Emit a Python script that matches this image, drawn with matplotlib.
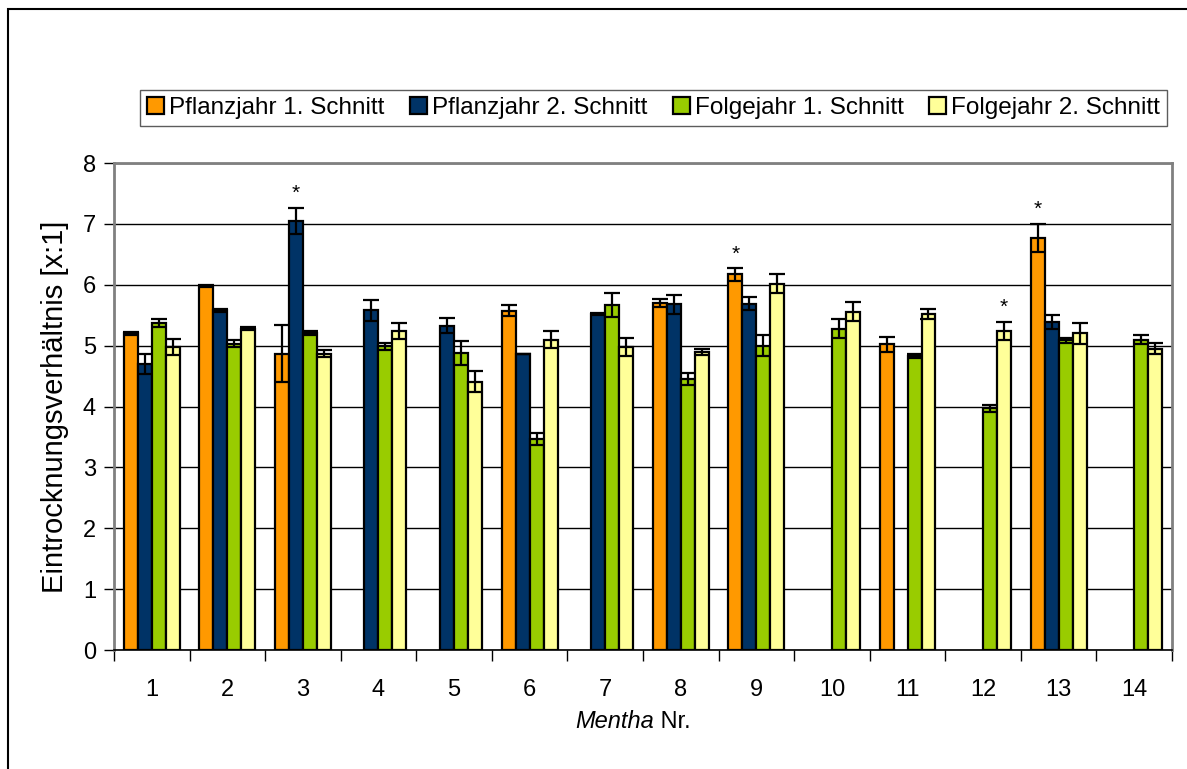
import numpy as np
import matplotlib
matplotlib.use("Agg")
import matplotlib.pyplot as plt
from matplotlib.patches import Rectangle

plt.rcParams["font.family"] = ["Liberation Sans", "DejaVu Sans"]

nr = [str(i) for i in range(1, 15)]
serien = ["Pflanzjahr 1. Schnitt", "Pflanzjahr 2. Schnitt",
          "Folgejahr 1. Schnitt", "Folgejahr 2. Schnitt"]
farben = ["#FF9900", "#003366", "#99CC00", "#FFFF99"]

nan = np.nan
pj1 = [5.20, 5.98, 4.87, nan, nan, 5.57, nan, 5.70, 6.17, nan, 5.02, nan, 6.77, nan]
pj1_err = [0.02, 0.02, 0.47, nan, nan, 0.09, nan, 0.06, 0.10, nan, 0.13, nan, 0.23, nan]
pj2 = [4.70, 5.58, 7.05, 5.58, 5.33, 4.87, 5.52, 5.68, 5.69, nan, nan, nan, 5.39, nan]
pj2_err = [0.16, 0.02, 0.21, 0.17, 0.12, 0.0, 0.02, 0.16, 0.11, nan, nan, nan, 0.12, nan]
fj1 = [5.37, 5.03, 5.21, 4.99, 4.88, 3.47, 5.67, 4.45, 5.00, 5.28, 4.83, 3.97, 5.09, 5.10]
fj1_err = [0.06, 0.06, 0.03, 0.06, 0.20, 0.10, 0.20, 0.10, 0.17, 0.16, 0.04, 0.06, 0.04, 0.08]
fj2 = [4.98, 5.28, 4.87, 5.24, 4.41, 5.10, 4.98, 4.90, 6.02, 5.56, 5.52, 5.24, 5.20, 4.95]
fj2_err = [0.13, 0.03, 0.06, 0.13, 0.17, 0.14, 0.15, 0.05, 0.16, 0.15, 0.08, 0.15, 0.17, 0.09]

werte = [pj1, pj2, fj1, fj2]
fehler = [pj1_err, pj2_err, fj1_err, fj2_err]

# signifikante Unterschiede: (Mentha Nr. Index, Serie)
sterne = [(2, 1), (8, 0), (11, 3), (12, 0)]

fig = plt.figure(figsize=(11.87, 7.69), dpi=100)
ax = fig.add_axes([0.096, 0.1547, 0.8914, 0.6333])

x = np.arange(len(nr))
breite = 0.185
for i, (w, e, f, name) in enumerate(zip(werte, fehler, farben, serien)):
    pos = x + (i - 1.5) * breite
    ax.bar(pos, w, breite, color=f, edgecolor="black", linewidth=1.6,
           label=name, zorder=3)
    ax.errorbar(pos, w, yerr=e, fmt="none", ecolor="black", elinewidth=1.6,
                capsize=5.5, capthick=1.6, zorder=4)

for g, s in sterne:
    xs = x[g] + (s - 1.5) * breite
    ys = werte[s][g] + fehler[s][g] + 0.08
    ax.text(xs, ys, "*", ha="center", va="bottom", fontsize=15, zorder=5)

ax.set_xlim(-0.5, len(nr) - 0.5)
ax.set_ylim(0, 8)
ax.set_yticks(range(0, 9))
ax.yaxis.grid(True, color="black", linewidth=1.0, zorder=0)
ax.set_axisbelow(True)

ax.set_xticks(x)
ax.set_xticklabels(nr)
ax.set_xticks(np.arange(-0.5, len(nr), 1.0), minor=True)
ax.tick_params(axis="x", which="major", length=0, pad=21, labelsize=17)
ax.tick_params(axis="x", which="minor", length=8, width=1.0, color="black")
ax.tick_params(axis="y", length=7, width=1.0, labelsize=17, pad=6)

for side in ["top", "right", "left"]:
    ax.spines[side].set_color("#808080")
    ax.spines[side].set_linewidth(2.0)
ax.spines["bottom"].set_color("black")
ax.spines["bottom"].set_linewidth(1.2)

ax.set_ylabel("Eintrocknungsverhältnis [x:1]", fontsize=21, labelpad=10)

# Achsentitel unten: Gattungsname kursiv
lab_y = 1 - 722 / 769
fig.text(0.5506, lab_y, "Mentha", fontsize=17, style="italic",
         ha="right", va="center")
fig.text(0.5506, lab_y, " Nr.", fontsize=17, ha="left", va="center")

leg = ax.legend(loc="center", bbox_to_anchor=(0.5506, 0.8596),
                bbox_transform=fig.transFigure, ncol=4, fontsize=17.5,
                frameon=True, fancybox=False, edgecolor="#333333",
                handlelength=0.7, handleheight=0.7, handletextpad=0.2,
                columnspacing=1.05, borderpad=0.3, borderaxespad=0)
leg.get_frame().set_linewidth(1.0)

# Rahmen um das gesamte Diagramm
fig.patches.append(Rectangle((8 / 1187, -0.1), 1.2, 1.1 - 9 / 769,
                             transform=fig.transFigure, fill=False,
                             edgecolor="black", linewidth=1.5))

fig.savefig("out.png", dpi=100)
